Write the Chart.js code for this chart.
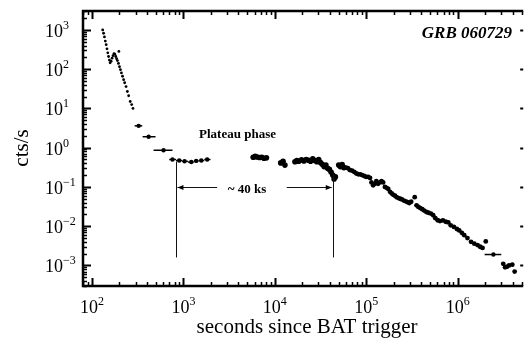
<!DOCTYPE html>
<html>
<head>
<meta charset="utf-8">
<script src="https://cdn.jsdelivr.net/npm/chart.js@4.4.1/dist/chart.umd.min.js"></script>
<style>
    html, body { margin: 0; padding: 0; background: #fff; }
</style>
</head>
<body>
<canvas id="chart" width="526" height="340"></canvas>
<script>
// light curve of GRB 060729, seconds since BAT trigger vs counts/s
const earlyTimes = [131, 134, 137, 140, 143, 146, 149, 152, 155, 158, 162, 166, 170, 174, 178, 182, 186, 190, 195, 197, 200, 205, 210, 216, 222, 228, 236, 244, 252, 262, 272, 281];
const earlyRates = [1000, 820, 660, 520, 420, 330, 260, 210, 170, 145, 160, 190, 220, 250, 240, 210, 185, 165, 140, 282, 115, 97, 80, 66, 54, 45, 36, 27, 21, 15, 12.5, 10];

const binTimes = [324, 417, 607];
const binRates = [3.6, 1.9, 0.86];
const binLo = [293, 358, 472];
const binHi = [355, 496, 760];

const plateauTimes = [760, 900, 1030, 1220, 1380, 1570, 1820];
const plateauRates = [0.50, 0.47, 0.45, 0.43, 0.46, 0.47, 0.50];
const plateauLo = [700, 830, 970, 1120, 1300, 1470, 1690];
const plateauHi = [830, 970, 1120, 1300, 1470, 1690, 1980];

const midTimes = [5800, 6100, 6400, 6800, 7200, 7600, 8100, 11600, 12300, 12900, 16600, 17400, 18300, 19600, 20800, 22000, 23400, 24600, 26000, 27400, 28800, 30200, 31600, 33000, 34600, 36200, 37800, 39500, 41200, 43000, 44500, 46000, 50000, 52000, 54500, 57000];
const midRates = [0.57, 0.60, 0.58, 0.56, 0.57, 0.54, 0.55, 0.41, 0.45, 0.36, 0.44, 0.47, 0.45, 0.49, 0.46, 0.50, 0.48, 0.45, 0.52, 0.47, 0.44, 0.50, 0.42, 0.38, 0.33, 0.36, 0.30, 0.28, 0.24, 0.20, 0.16, 0.18, 0.36, 0.33, 0.37, 0.31];

const decayTimes = [60000, 63000, 66000, 70000, 74000, 78000, 82000, 86000, 90000, 95000, 100000, 105000, 110000, 114000, 119000, 124000, 129000, 135000, 141000, 147000, 153000, 160000, 167000, 174000, 182000, 190000, 198000, 206000, 215000, 225000, 235000, 246000, 258000, 270000, 283000, 296000, 310000, 339000, 355000, 372000, 390000, 410000, 430000, 455000, 480000, 510000, 540000, 570000, 605000, 640000, 690000, 740000, 790000, 840000, 910000, 980000, 1040000, 1110000, 1180000, 1280000, 1400000, 1520000, 1650000, 1760000, 1870000, 2030000, 3150000, 3300000, 3470000, 3650000, 3960000, 4200000];
const decayRates = [0.31, 0.30, 0.27, 0.26, 0.24, 0.22, 0.21, 0.21, 0.20, 0.19, 0.18, 0.18, 0.17, 0.13, 0.11, 0.12, 0.14, 0.12, 0.13, 0.14, 0.13, 0.10, 0.095, 0.089, 0.075, 0.068, 0.063, 0.060, 0.055, 0.052, 0.050, 0.048, 0.045, 0.043, 0.041, 0.039, 0.042, 0.055, 0.034, 0.031, 0.029, 0.027, 0.025, 0.023, 0.022, 0.021, 0.019, 0.016, 0.0142, 0.0135, 0.0140, 0.0130, 0.0125, 0.0105, 0.0096, 0.0085, 0.0078, 0.0068, 0.0059, 0.0050, 0.0040, 0.0036, 0.0033, 0.0030, 0.0028, 0.0041, 0.0011, 0.0009, 0.00093, 0.0010, 0.00105, 0.0007];

const lateBinTimes = [2460000];
const lateBinRates = [0.0019];
const lateBinLo = [1970000];
const lateBinHi = [3000000];

const xTickExps = [2, 3, 4, 5, 6];
const yTickExps = [-3, -2, -1, 0, 1, 2, 3];

// plateau markers (~40 ks)
const markerTimes = [840, 43000];
const markerTops = [0.44, 0.25];

const toPoints = (xs, ys) => xs.map((x, i) => ({x: x, y: ys[i]}));

const serif = "'Liberation Serif', 'Times New Roman', serif";

// horizontal error bars, drawn for datasets that carry lo/hi
const xErrorBars = {
    id: 'xErrorBars',
    beforeDatasetsDraw(chart) {
        const {ctx, scales: {x, y}} = chart;
        ctx.save();
        ctx.strokeStyle = '#000';
        ctx.lineWidth = 1.5;
        chart.data.datasets.forEach((ds) => {
            if (!ds.xLo) return;
            ds.data.forEach((p, i) => {
                const py = y.getPixelForValue(p.y);
                ctx.beginPath();
                ctx.moveTo(x.getPixelForValue(ds.xLo[i]), py);
                ctx.lineTo(x.getPixelForValue(ds.xHi[i]), py);
                ctx.stroke();
            });
        });
        ctx.restore();
    }
};

// box, inward ticks and 10^n labels
const frame = {
    id: 'frame',
    afterDatasetsDraw(chart) {
        const {ctx, chartArea: a, scales: {x, y}} = chart;
        ctx.save();
        ctx.strokeStyle = '#000';
        ctx.fillStyle = '#000';

        const drawTicks = (scale, horizontal) => {
            const lo = Math.floor(Math.log10(scale.min));
            const hi = Math.ceil(Math.log10(scale.max));
            for (let e = lo; e <= hi; e++) {
                for (let m = 1; m <= 9; m++) {
                    const v = m * Math.pow(10, e);
                    if (v < scale.min || v > scale.max) continue;
                    const p = Math.round(scale.getPixelForValue(v)) + 0.5;
                    const len = m === 1 ? 8 : 4;
                    ctx.lineWidth = m === 1 ? 2 : 1.5;
                    ctx.beginPath();
                    if (horizontal) {
                        ctx.moveTo(p, a.bottom); ctx.lineTo(p, a.bottom - len);
                        ctx.moveTo(p, a.top); ctx.lineTo(p, a.top + len);
                    } else {
                        ctx.moveTo(a.left, p); ctx.lineTo(a.left + len, p);
                        ctx.moveTo(a.right, p); ctx.lineTo(a.right - (m === 1 ? 3 : 0), p);
                    }
                    ctx.stroke();
                }
            }
        };
        drawTicks(x, true);
        drawTicks(y, false);

        // left, top and bottom sides; the right side falls off the picture
        ctx.lineWidth = 2.5;
        ctx.beginPath();
        ctx.moveTo(a.right, a.top);
        ctx.lineTo(a.left, a.top);
        ctx.lineTo(a.left, a.bottom);
        ctx.lineTo(a.right, a.bottom);
        ctx.stroke();

        const expLabel = (e) => (e < 0 ? '\u2212' + (-e) : String(e));
        ctx.textBaseline = 'alphabetic';
        ctx.textAlign = 'left';

        xTickExps.forEach((e) => {
            const px = x.getPixelForValue(Math.pow(10, e));
            ctx.font = '18px ' + serif;
            const w1 = ctx.measureText('10').width;
            ctx.font = '12px ' + serif;
            const w2 = ctx.measureText(expLabel(e)).width;
            const left = px - (w1 + w2) / 2;
            ctx.font = '18px ' + serif;
            ctx.fillText('10', left, 313);
            ctx.font = '12px ' + serif;
            ctx.fillText(expLabel(e), left + w1, 305);
        });

        yTickExps.forEach((e) => {
            const py = y.getPixelForValue(Math.pow(10, e));
            ctx.font = '18px ' + serif;
            const w1 = ctx.measureText('10').width;
            ctx.fillText('10', 45, py + 7);
            ctx.font = '12px ' + serif;
            ctx.fillText(expLabel(e), 45 + w1, py - 1);
        });

        // axis titles
        ctx.font = '21px ' + serif;
        ctx.textAlign = 'center';
        ctx.fillText('seconds since BAT trigger', (a.left + a.right) / 2 + 4, 333);
        ctx.save();
        ctx.translate(28, 148);
        ctx.rotate(-Math.PI / 2);
        ctx.fillText('cts/s', 0, 0);
        ctx.restore();

        ctx.font = 'italic bold 17px ' + serif;
        ctx.textAlign = 'right';
        ctx.fillText('GRB 060729', 512, 38);
        ctx.restore();
    }
};

// plateau annotation: vertical markers, arrows and text
const plateauNote = {
    id: 'plateauNote',
    afterDatasetsDraw(chart) {
        const {ctx, scales: {x, y}} = chart;
        ctx.save();
        ctx.strokeStyle = '#111';
        ctx.fillStyle = '#000';
        ctx.lineWidth = 1;
        const bottom = y.getPixelForValue(0.0016);
        markerTimes.forEach((t, i) => {
            const px = Math.round(x.getPixelForValue(t)) + 0.5;
            ctx.beginPath();
            ctx.moveTo(px, y.getPixelForValue(markerTops[i]));
            ctx.lineTo(px, bottom);
            ctx.stroke();
        });

        const ay = Math.round(y.getPixelForValue(0.1)) + 0.5;
        const x0 = x.getPixelForValue(markerTimes[0]) + 1;
        const x1 = x.getPixelForValue(markerTimes[1]) - 1;
        const arrow = (from, to) => {
            ctx.beginPath();
            ctx.moveTo(from, ay);
            ctx.lineTo(to, ay);
            ctx.stroke();
            const d = to > from ? -1 : 1;
            ctx.beginPath();
            ctx.moveTo(to, ay);
            ctx.lineTo(to + d * 6, ay - 2.5);
            ctx.lineTo(to + d * 6, ay + 2.5);
            ctx.closePath();
            ctx.fill();
        };
        arrow(x.getPixelForValue(2340), x0);
        arrow(x.getPixelForValue(13500), x1);

        ctx.textAlign = 'center';
        ctx.textBaseline = 'middle';
        ctx.font = 'bold 13px ' + serif;
        ctx.fillText('~ 40 ks', x.getPixelForValue(4960), ay + 2);
        ctx.fillText('Plateau phase', x.getPixelForValue(3910), y.getPixelForValue(2.2));
        ctx.restore();
    }
};

const dot = (data, r, extra) => Object.assign({
    data: data,
    backgroundColor: '#000',
    borderColor: '#000',
    borderWidth: 0,
    pointRadius: r,
    pointHoverRadius: r,
    showLine: false
}, extra || {});

new Chart(document.getElementById('chart').getContext('2d'), {
    type: 'scatter',
    data: {
        datasets: [
            dot(toPoints(earlyTimes, earlyRates), 1.4),
            dot(toPoints(binTimes, binRates), 2.2, {xLo: binLo, xHi: binHi}),
            dot(toPoints(plateauTimes, plateauRates), 2.2, {xLo: plateauLo, xHi: plateauHi}),
            dot(toPoints(midTimes, midRates), 2.8),
            dot(toPoints(decayTimes, decayRates), 2.4),
            dot(toPoints(lateBinTimes, lateBinRates), 2.2, {xLo: lateBinLo, xHi: lateBinHi})
        ]
    },
    options: {
        responsive: false,
        animation: false,
        devicePixelRatio: 1,
        layout: {padding: {top: 11, left: 0, right: 0, bottom: 0}},
        plugins: {
            legend: {display: false},
            tooltip: {enabled: false}
        },
        scales: {
            x: {
                type: 'logarithmic',
                min: 79.8,
                max: 5.21e6,
                grid: {display: false},
                border: {display: false},
                ticks: {display: false},
                afterFit: (scale) => { scale.height = 54; }
            },
            y: {
                type: 'logarithmic',
                min: 3.3e-4,
                max: 3027,
                grid: {display: false},
                border: {display: false},
                ticks: {display: false},
                afterFit: (scale) => { scale.width = 83; }
            }
        }
    },
    plugins: [xErrorBars, frame, plateauNote]
});
</script>
</body>
</html>
